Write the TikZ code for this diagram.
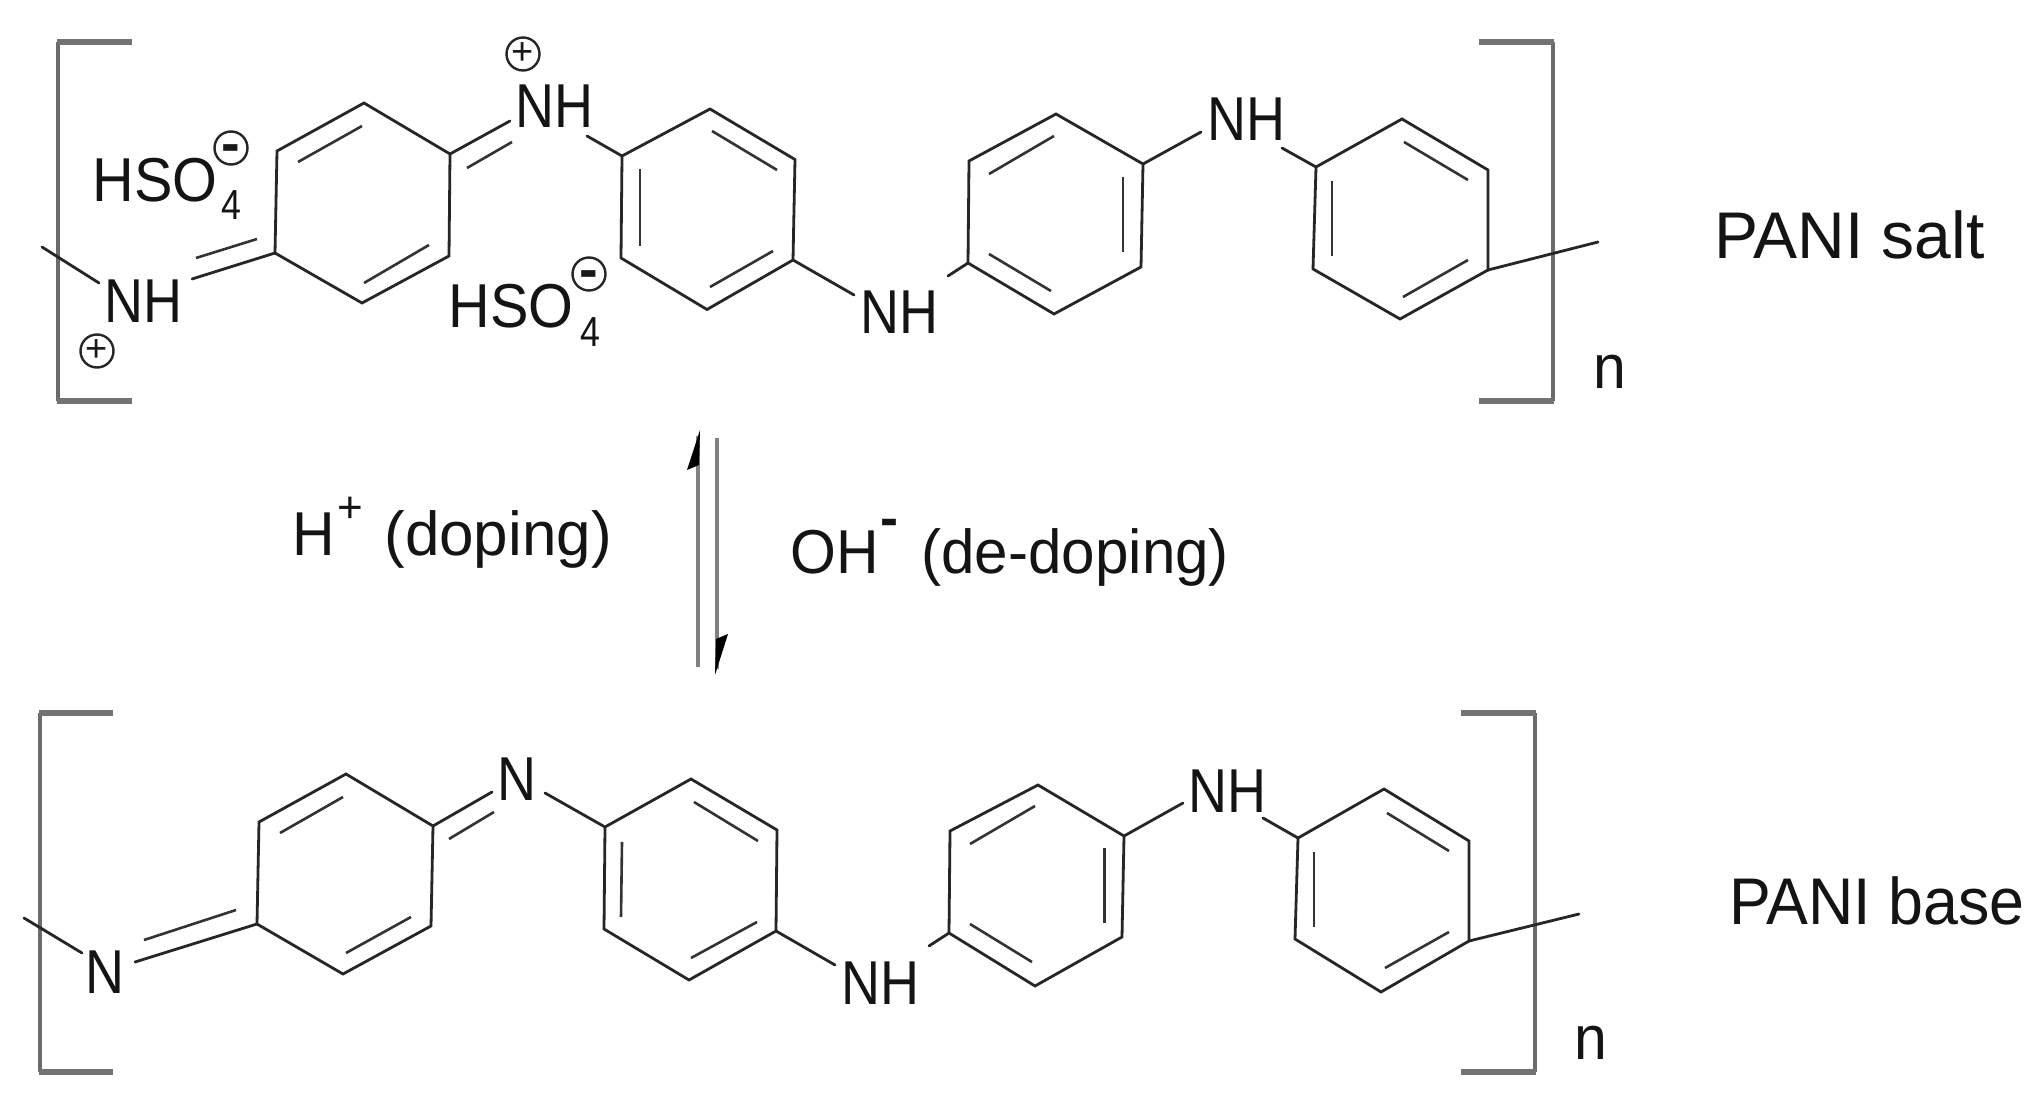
\documentclass[tikz,border=0pt]{standalone}
\usepackage{fontspec}
\setmainfont[FakeStretch=0.95]{Liberation Sans}
\newfontfamily\plainlab{Liberation Sans}
\newfontfamily\narrowlab[FakeStretch=0.87]{Liberation Sans}
\newfontfamily\hsolab[FakeStretch=0.93]{Liberation Sans}
\newfontfamily\sublab[FakeStretch=0.85]{Liberation Sans}
\newfontfamily\midlab[FakeStretch=0.97]{Liberation Sans}
\tikzset{
  bond/.style={line width=1.4pt,draw=black!85,line cap=round,line join=miter},
  inner/.style={line width=1.3pt,draw=black!80,line cap=butt},
  brv/.style={line width=2pt,draw=black!58},
  brh/.style={line width=3pt,draw=black!55},
  eqline/.style={line width=2.4pt,draw=black!50},
  barb/.style={fill=black,draw=none},
  chargering/.style={circle,draw=black!85,line width=1.2pt,inner sep=0pt,minimum size=16.5pt},
  txt/.style={anchor=base west,inner sep=0pt,text=black!92},
  sgn/.style={inner sep=0pt,text=black!90},
}
% ring: name + six vertices, clockwise from the top
\newcommand\ring[7]{%
  \coordinate (#1a) at (#2); \coordinate (#1b) at (#3); \coordinate (#1c) at (#4);
  \coordinate (#1d) at (#5); \coordinate (#1e) at (#6); \coordinate (#1f) at (#7);
  \draw[bond] (#1a) -- (#1b) -- (#1c) -- (#1d) -- (#1e) -- (#1f) -- cycle;}
\newcommand\inn[2]{\draw[inner] (#1) -- (#2);}
\newcommand\fs[1]{\fontsize{#1}{#1}\selectfont}
\begin{document}
\begin{tikzpicture}[x=0.5pt,y=-0.5pt]
\useasboundingbox[fill=white] (0,0) rectangle (2044,1096);

%% ---------- PANI salt ----------
\draw[brv] (58,42) -- (58,401);
\draw[brh] (57,42) -- (132,42);
\draw[brh] (57,401) -- (132,401);
\draw[brv] (1553,42) -- (1553,401);
\draw[brh] (1479,42) -- (1554,42);
\draw[brh] (1479,401) -- (1554,401);

\ring{sA}{364,103}{450,154}{449,256}{362,303}{275,253}{277,151}
\inn{362,126}{298,162}
\inn{429,245}{364,283}
\ring{sB}{710,109}{795,159.5}{793,260}{707,309.5}{621,258}{622,156}
\inn{712,131}{777,170}
\inn{640,169}{640,246}
\inn{773,251}{710,287}
\ring{sC}{1056,114}{1143,164}{1141,267}{1054,314}{968,263}{969,161}
\inn{989,174}{1054,136}
\inn{1123,177}{1123,252}
\inn{989,254}{1051,291}
\ring{sD}{1402,119}{1488,170}{1488,270}{1400,319}{1313,269}{1316,167}
\inn{1404,142}{1468,180}
\inn{1332,181}{1332,256}
\inn{1403,297}{1468,260}

\coordinate (sT0) at (42,247);  \coordinate (sT1) at (99,283);
\draw[bond] (sT0) -- (sT1);
\coordinate (sL1) at (192,279);
\draw[bond] (sAe) -- (sL1);
\inn{196,258}{257,239}
\coordinate (sN1) at (510,121);
\draw[bond] (sAb) -- (sN1);
\inn{467,168}{512,142}
\coordinate (sN2) at (587,136);
\draw[bond] (sN2) -- (sBf);
\coordinate (sN3) at (854,295);
\draw[bond] (sBc) -- (sN3);
\coordinate (sN4) at (948,276);
\draw[bond] (sN4) -- (sCe);
\coordinate (sN5) at (1201,132);
\draw[bond] (sCb) -- (sN5);
\coordinate (sN6) at (1282,148);
\draw[bond] (sN6) -- (sDf);
\coordinate (sT2) at (1598,242);
\draw[bond] (sDc) -- (sT2);

\node[txt,font=\narrowlab\fs{31}] (nhA) at (104,323) {NH};
\node[txt,font=\narrowlab\fs{31}] (nhB) at (515,128) {NH};
\node[txt,font=\narrowlab\fs{31}] (nhC) at (860,334) {NH};
\node[txt,font=\narrowlab\fs{31}] (nhD) at (1207,141) {NH};
\node[txt,font=\hsolab\fs{31}] (hsoA) at (92,202) {HSO};
\node[txt,font=\sublab\fs{21}] (subA) at (221,220) {4};
\node[txt,font=\hsolab\fs{31}] (hsoB) at (448,328) {HSO};
\node[txt,font=\sublab\fs{21}] (subB) at (580,347) {4};
\node[chargering] (pA) at (523,54) {};
\node[sgn,font=\plainlab\fs{19}] at (pA) {+};
\node[chargering] (pB) at (97,351) {};
\node[sgn,font=\plainlab\fs{19}] at (pB) {+};
\node[chargering] (mA) at (231,148) {};
\node[sgn,font=\plainlab\bfseries\fs{28}] at ([yshift=-2.7pt]mA) {-};
\node[chargering] (mB) at (589,274) {};
\node[sgn,font=\plainlab\bfseries\fs{28}] at ([yshift=-2.7pt]mB) {-};
\node[txt,font=\fs{31}] (nS) at (1593,388) {n};
\node[txt,font=\plainlab\fs{33}] (salt) at (1714,259) {PANI salt};

%% ---------- equilibrium arrows ----------
\coordinate (eqA1) at (698,667); \coordinate (eqA2) at (698,436);
\coordinate (eqB1) at (717,438); \coordinate (eqB2) at (717,669);
\draw[eqline] (eqA1) -- (eqA2);
\draw[eqline] (eqB1) -- (eqB2);
\fill[barb] (700,430) -- (687,470) -- (699,465) -- cycle;
\fill[barb] (715,675) -- (728,634) -- (716,639) -- cycle;

\node[txt,font=\fs{31}] (hplus) at (292,555) {H};
\node[txt,font=\plainlab\fs{22}] (plus) at (337,522) {+};
\node[txt,font=\plainlab\fs{31}] (dop) at (384,555) {(doping)};
\node[txt,font=\fs{31}] (oh) at (790,573) {OH};
\node[txt,font=\plainlab\bfseries\fs{27}] (minus) at (880,536) {-};
\node[txt,font=\midlab\fs{31}] (dedop) at (921,573) {(de-doping)};

%% ---------- PANI base ----------
\draw[brv] (40,713) -- (40,1072);
\draw[brh] (39,713) -- (113,713);
\draw[brh] (39,1072) -- (113,1072);
\draw[brv] (1535,713) -- (1535,1072);
\draw[brh] (1461,713) -- (1536,713);
\draw[brh] (1461,1072) -- (1536,1072);

\ring{bA}{346,774}{433,826}{431,926}{343,974}{257,924}{259,822}
\inn{343,797}{280,833}
\inn{411,917}{346,953}
\ring{bB}{691,779}{777,830}{776,931}{689,980}{604,929}{605,827}
\inn{694,802}{758,841}
\inn{622,842}{621,917}
\inn{691,958}{757,922}
\ring{bC}{1038,785}{1124,836}{1122,937}{1035,986}{949,933}{950,831}
\inn{970,844}{1035,806}
\inn{1104.5,848}{1104.5,923}
\inn{970,924}{1032,962}
\ring{bD}{1384,789}{1469,841}{1469,941}{1381,992}{1295,939}{1298,838}
\inn{1387,813}{1449,851}
\inn{1314,852}{1314,927}
\inn{1385,968}{1449,932}

\coordinate (bT0) at (24,918);  \coordinate (bT1) at (82,953);
\draw[bond] (bT0) -- (bT1);
\coordinate (bL1) at (135,962);
\draw[bond] (bAe) -- (bL1);
\inn{144,940}{236,910}
\coordinate (bN1) at (492,792);
\draw[bond] (bAb) -- (bN1);
\inn{449,839}{494,812}
\coordinate (bN2) at (545,793);
\draw[bond] (bN2) -- (bBf);
\coordinate (bN3) at (835,965);
\draw[bond] (bBc) -- (bN3);
\coordinate (bN4) at (929,946);
\draw[bond] (bN4) -- (bCe);
\coordinate (bN5) at (1183,803);
\draw[bond] (bCb) -- (bN5);
\coordinate (bN6) at (1263,818);
\draw[bond] (bN6) -- (bDf);
\coordinate (bT2) at (1579,914);
\draw[bond] (bDc) -- (bT2);

\node[txt,font=\narrowlab\fs{31}] (nA) at (85,993) {N};
\node[txt,font=\narrowlab\fs{31}] (nB) at (497,800) {N};
\node[txt,font=\narrowlab\fs{31}] (nhE) at (841,1004) {NH};
\node[txt,font=\narrowlab\fs{31}] (nhF) at (1188,812) {NH};
\node[txt,font=\fs{31}] (nBase) at (1574,1059) {n};
\node[txt,font=\fs{33}] (base) at (1729,924) {PANI base};
\end{tikzpicture}
\end{document}
